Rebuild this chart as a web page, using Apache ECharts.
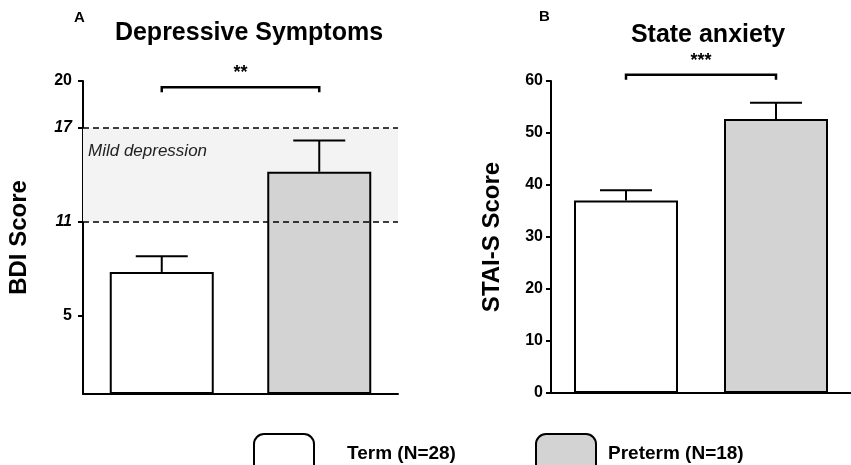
<!DOCTYPE html>
<html><head><meta charset="utf-8">
<script src="https://cdn.jsdelivr.net/npm/echarts@6/dist/echarts.min.js"></script>
<style>html,body{margin:0;padding:0;background:#fff}#c{width:851px;height:465px}</style>
</head><body><div id="c"></div>
<script>
const groups = ['Term (N=28)', 'Preterm (N=18)'];
const bdiMean = [7.8, 14.2];
const bdiUpper = [8.8, 16.2];
const staiMean = [37.0, 52.7];
const staiUpper = [39.0, 55.8];
const bdiTicks = [5, 11, 17, 20];
const bdiBand = [11, 17];
const bdiSig = { y: 19.6, text: '**' };
const staiSig = { y: 61.2, text: '***' };
const FONT = '"Liberation Sans", Arial, sans-serif';
const fills = ['#ffffff', '#d3d3d3'];

const chart = echarts.init(document.getElementById('c'), null, {renderer: 'canvas'});

function barSeries(gi, means) {
  return groups.map((g, i) => ({
    type: 'bar', name: g, xAxisIndex: gi, yAxisIndex: gi, z: 3,
    data: means.map((v, j) => j === i ? v : '-'),
    barWidth: 104, barGap: '-100%',
    itemStyle: { color: fills[i], borderColor: '#000', borderWidth: 2 },
    emphasis: { disabled: true }, silent: true
  }));
}
function errSeries(gi, means, uppers) {
  return {
    type: 'custom', xAxisIndex: gi, yAxisIndex: gi, z: 4, silent: true,
    data: means.map((m, i) => [i, m, uppers[i]]),
    renderItem: (params, api) => {
      const p0 = api.coord([api.value(0), api.value(1)]);
      const p1 = api.coord([api.value(0), api.value(2)]);
      const hw = 26;
      return { type: 'group', children: [
        { type: 'line', shape: { x1: p0[0], y1: p0[1], x2: p1[0], y2: p1[1] }, style: { stroke: '#000', lineWidth: 2 } },
        { type: 'line', shape: { x1: p1[0] - hw, y1: p1[1], x2: p1[0] + hw, y2: p1[1] }, style: { stroke: '#000', lineWidth: 2 } }
      ]};
    }
  };
}
function sigSeries(gi, sig) {
  return {
    type: 'custom', xAxisIndex: gi, yAxisIndex: gi, z: 4, silent: true,
    data: [[0, 1, sig.y]],
    renderItem: (params, api) => {
      const a = api.coord([api.value(0), api.value(2)]);
      const b = api.coord([api.value(1), api.value(2)]);
      return { type: 'group', children: [
        { type: 'polyline', shape: { points: [[a[0], a[1] + 5], [a[0], a[1]], [b[0], b[1]], [b[0], b[1] + 5]] },
          style: { stroke: '#000', lineWidth: 2.5, fill: null } },
        { type: 'text', style: { text: sig.text, x: (a[0] + b[0]) / 2, y: a[1] - 5, textAlign: 'center', textVerticalAlign: 'bottom',
          font: 'bold 18px ' + FONT, fill: '#000' } }
      ]};
    }
  };
}

const xAxisCommon = {
  type: 'category', data: ['Term', 'Preterm'], boundaryGap: true,
  axisLine: { lineStyle: { color: '#000', width: 2 } },
  axisTick: { show: false }, axisLabel: { show: false }
};

const option = {
  animation: false,
  backgroundColor: '#fff',
  grid: [
    { left: 83, top: 81, width: 315, height: 313 },
    { left: 551, top: 81, width: 310, height: 312 }
  ],
  xAxis: [ Object.assign({ gridIndex: 0 }, xAxisCommon), Object.assign({ gridIndex: 1 }, xAxisCommon) ],
  yAxis: [
    { gridIndex: 0, type: 'value', min: 0, max: 20,
      name: 'BDI Score', nameLocation: 'middle', nameRotate: 90, nameGap: 52,
      nameTextStyle: { fontFamily: FONT, fontWeight: 'bold', fontSize: 24, color: '#000' },
      splitLine: { show: false },
      axisLine: { show: true, lineStyle: { color: '#000', width: 2 } },
      axisTick: { show: true, length: 5, lineStyle: { color: '#000', width: 2 }, customValues: bdiTicks },
      axisLabel: { fontFamily: FONT, fontWeight: 'bold', fontSize: 16, color: '#000', margin: 11,
        customValues: bdiTicks,
        formatter: v => (v === bdiBand[0] || v === bdiBand[1]) ? '{it|' + v + '}' : String(v),
        rich: { it: { fontStyle: 'italic', fontWeight: 'bold', fontSize: 16, fontFamily: FONT, color: '#000' } } }
    },
    { gridIndex: 1, type: 'value', min: 0, max: 60, interval: 10,
      name: 'STAI-S Score', nameLocation: 'middle', nameRotate: 90, nameGap: 47,
      nameTextStyle: { fontFamily: FONT, fontWeight: 'bold', fontSize: 24, color: '#000' },
      splitLine: { show: false },
      axisLine: { show: true, lineStyle: { color: '#000', width: 2 } },
      axisTick: { show: true, length: 5, lineStyle: { color: '#000', width: 2 } },
      axisLabel: { fontFamily: FONT, fontWeight: 'bold', fontSize: 16, color: '#000', margin: 8 }
    }
  ],
  legend: [
    { data: [groups[0]], left: 248, top: 428, itemWidth: 60, itemHeight: 40, icon: 'roundRect',
      selectedMode: false, textStyle: { fontFamily: FONT, fontWeight: 'bold', fontSize: 19, color: '#000', padding: [0, 0, 0, 28] } },
    { data: [groups[1]], left: 530, top: 428, itemWidth: 60, itemHeight: 40, icon: 'roundRect',
      selectedMode: false, textStyle: { fontFamily: FONT, fontWeight: 'bold', fontSize: 19, color: '#000', padding: [0, 0, 0, 7] } }
  ],
  graphic: [
    { type: 'text', left: 74, top: 10, style: { text: 'A', font: 'bold 15px ' + FONT, fill: '#000' } },
    { type: 'text', left: 539, top: 9, style: { text: 'B', font: 'bold 15px ' + FONT, fill: '#000' } },
    { type: 'text', x: 249, y: 33, style: { text: 'Depressive Symptoms', font: 'bold 25px ' + FONT, fill: '#000', textAlign: 'center', textVerticalAlign: 'middle' } },
    { type: 'text', x: 708, y: 35, style: { text: 'State anxiety', font: 'bold 25px ' + FONT, fill: '#000', textAlign: 'center', textVerticalAlign: 'middle' } }
  ],
  series: [
    { type: 'line', xAxisIndex: 0, yAxisIndex: 0, z: 1, data: [], silent: true,
      markArea: { silent: true, itemStyle: { color: '#f3f3f3' },
        label: { show: true, position: 'insideTopLeft', formatter: 'Mild depression', fontFamily: FONT, fontStyle: 'italic', fontSize: 17, color: '#222', offset: [0, 10] },
        data: [[{ yAxis: bdiBand[0] }, { yAxis: bdiBand[1] }]] },
      markLine: { silent: true, symbol: 'none', label: { show: false },
        lineStyle: { color: '#000', type: [6, 4], width: 1.5 },
        data: [{ yAxis: bdiBand[0] }, { yAxis: bdiBand[1] }] }
    },
    ...barSeries(0, bdiMean),
    ...barSeries(1, staiMean),
    errSeries(0, bdiMean, bdiUpper),
    errSeries(1, staiMean, staiUpper),
    sigSeries(0, bdiSig),
    sigSeries(1, staiSig)
  ]
};
chart.setOption(option);
</script>
</body></html>
